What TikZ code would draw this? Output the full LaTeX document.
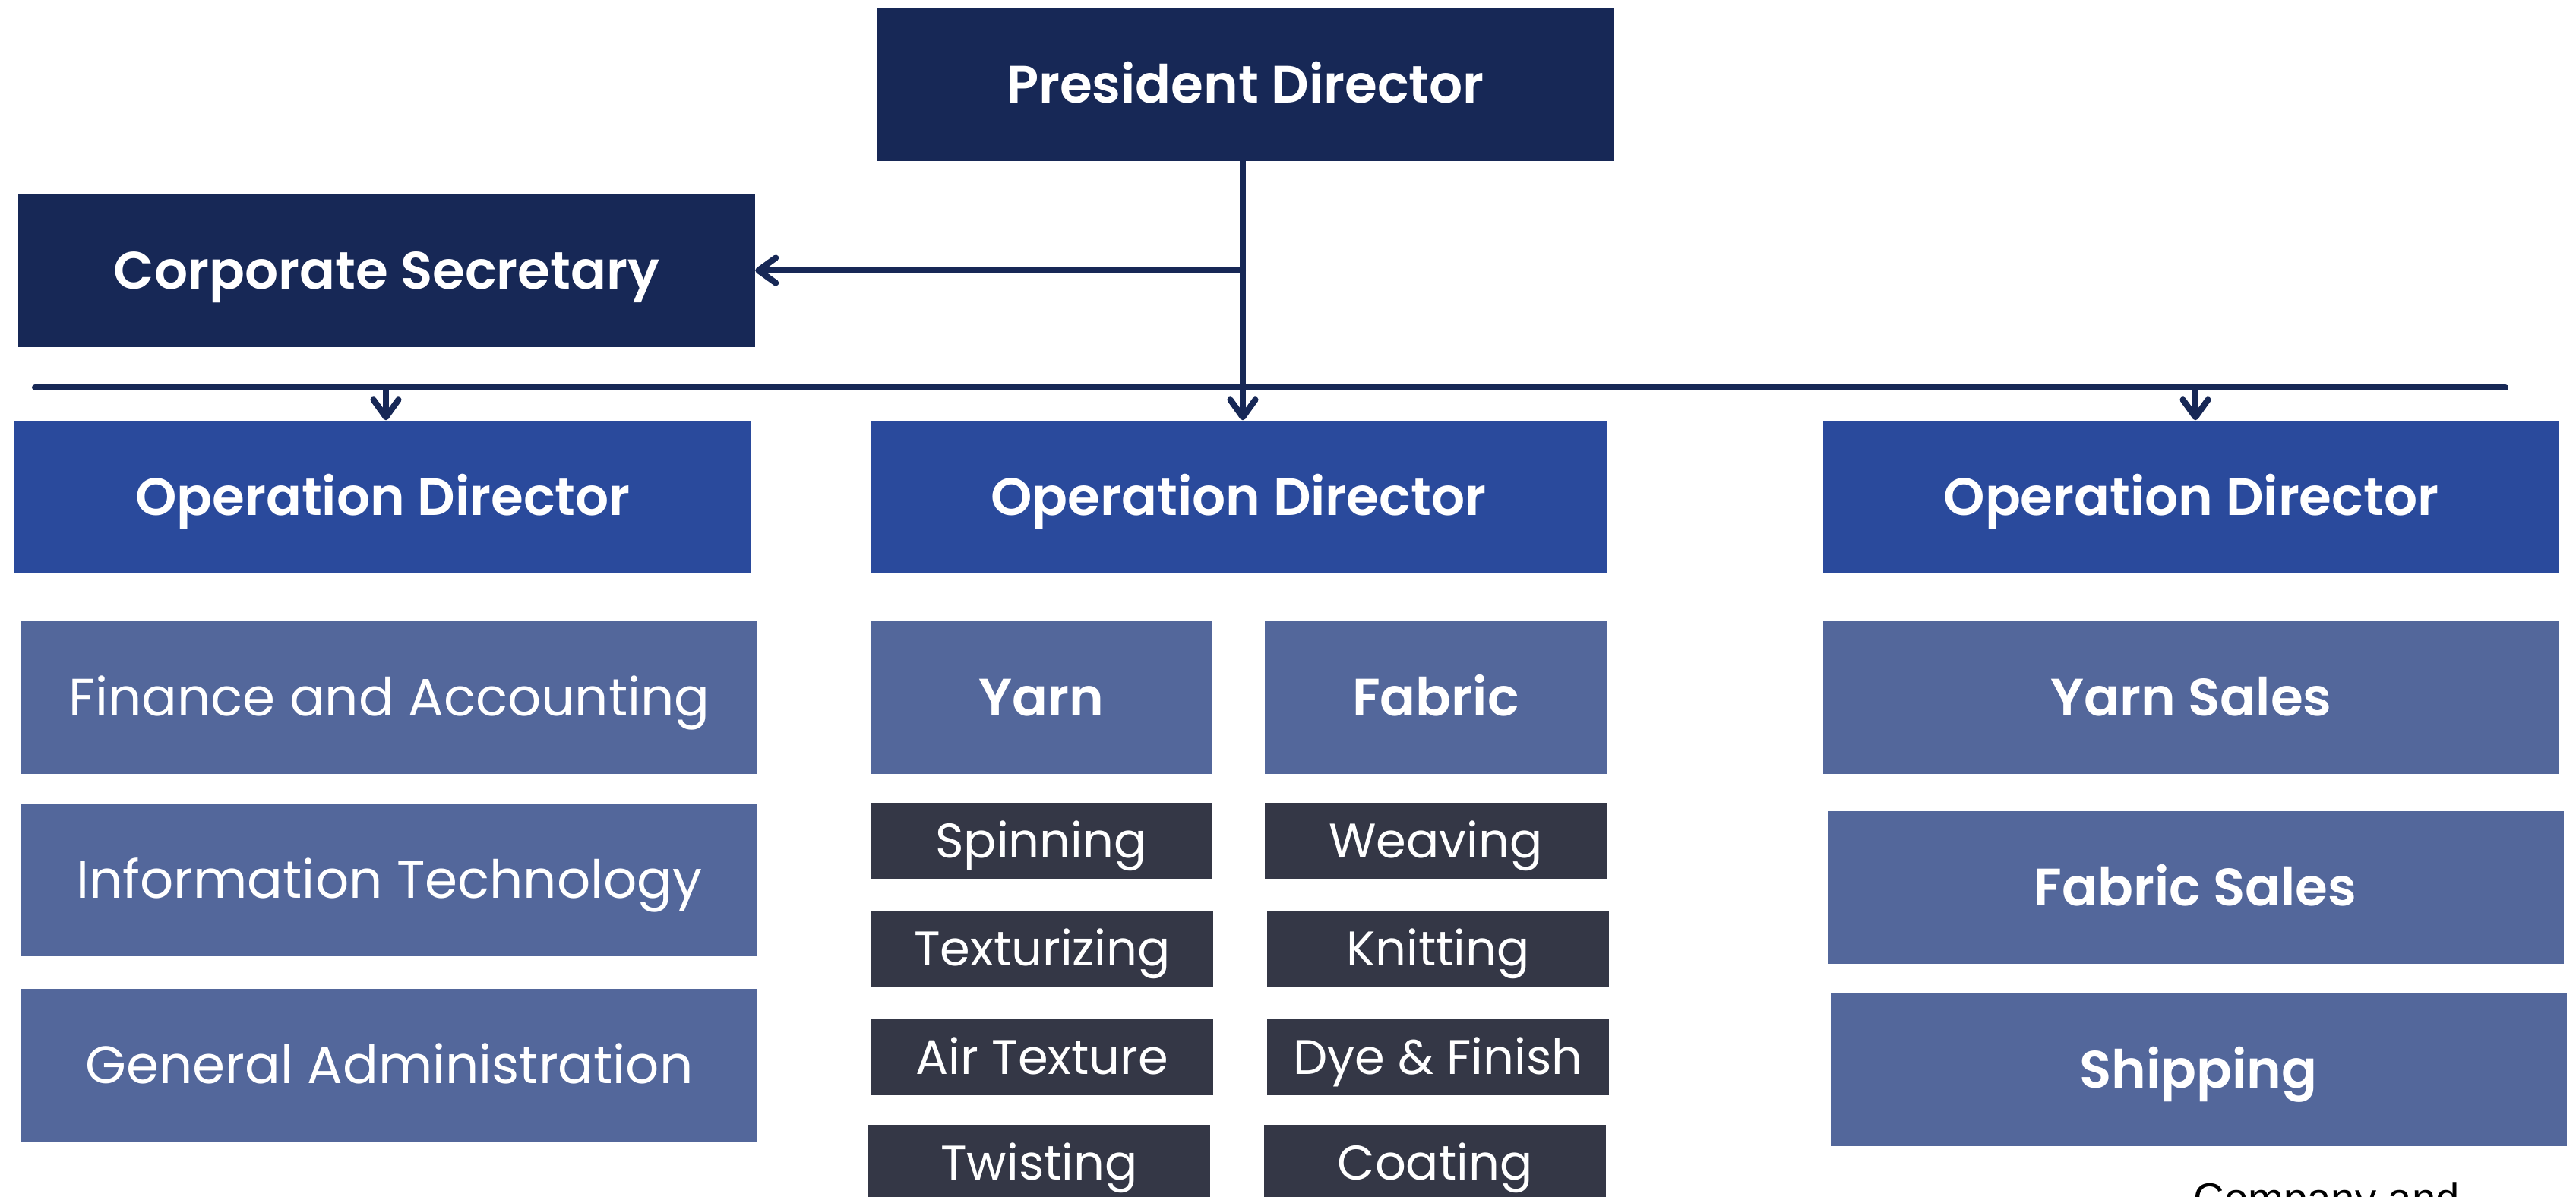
\documentclass[tikz,border=0pt]{standalone}
\usepackage{fontspec}
\setmainfont{Poppins}[BoldFont={Poppins SemiBold}]
\newfontfamily\arialfont{Liberation Sans}
\usetikzlibrary{arrows.meta}
\definecolor{marinocol}{HTML}{172856}
\definecolor{azulcol}{HTML}{2A4A9C}
\definecolor{grisazulcol}{HTML}{53679B}
\definecolor{oscurocol}{HTML}{343746}
\begin{document}
\begin{tikzpicture}[
    caja/.style={rectangle, inner sep=0pt, minimum width=9.69cm, minimum height=2.01cm, text=white, text height=13.9pt, text depth=0pt, font=\fontsize{19.7}{23}\selectfont},
    marino/.style={caja, fill=marinocol, font=\fontsize{19.7}{23}\selectfont\bfseries},
    azul/.style={caja, fill=azulcol, font=\fontsize{19.7}{23}\selectfont\bfseries},
    grisazul/.style={caja, fill=grisazulcol},
    negrita/.style={font=\fontsize{19.7}{23}\selectfont\bfseries},
    oscuro/.style={caja, fill=oscurocol, minimum width=4.5cm, minimum height=1cm, text height=12.9pt, font=\fontsize{18.2}{22}\selectfont},
    linea/.style={draw=marinocol, line width=2.3pt, line cap=round},
    flecha/.style={linea, -{Straight Barb[length=2.3mm, width=3.3mm, line cap=round, line join=round]}}]
    \useasboundingbox (0,0) rectangle (33.91,-15.76);
    \clip (0,0) rectangle (33.91,-15.76);

    \node[marino] (pres) at (16.395, -1.115) {President Director};
    \node[marino] (corp) at (5.09, -3.56) {Corporate Secretary};

    \node[azul] (opA) at (5.04, -6.545) {Operation Director};
    \node[azul] (opB) at (16.305, -6.545) {Operation Director};
    \node[azul] (opC) at (28.845, -6.545) {Operation Director};

    \node[grisazul] (fin) at (5.125, -9.18) {Finance and Accounting};
    \node[grisazul] (it) at (5.125, -11.58) {Information Technology};
    \node[grisazul] (gen) at (5.125, -14.025) {General Administration};

    \node[grisazul, negrita, minimum width=4.5cm] (yarn) at (13.71, -9.18) {Yarn};
    \node[grisazul, negrita, minimum width=4.5cm] (fabric) at (18.90, -9.18) {Fabric};

    \node[oscuro] (spin) at (13.705, -11.07) {Spinning};
    \node[oscuro] (textu) at (13.72, -12.49) {Texturizing};
    \node[oscuro] (air) at (13.72, -13.92) {Air Texture};
    \node[oscuro] (twist) at (13.68, -15.31) {Twisting};
    \node[oscuro] (weav) at (18.90, -11.07) {Weaving};
    \node[oscuro] (knit) at (18.93, -12.49) {Knitting};
    \node[oscuro] (dye) at (18.93, -13.92) {Dye \& Finish};
    \node[oscuro] (coat) at (18.89, -15.31) {Coating};

    \node[grisazul, negrita] (ysales) at (28.845, -9.18) {Yarn Sales};
    \node[grisazul, negrita] (fsales) at (28.90, -11.685) {Fabric Sales};
    \node[grisazul, negrita] (ship) at (28.94, -14.08) {Shipping};

    \node[anchor=base west, inner sep=0pt, font=\arialfont\fontsize{16}{19}\selectfont] (nota) at (28.87, -15.97) {Company and};

    % bus line
    \coordinate (busL) at (0.46, -5.10);
    \coordinate (busR) at (32.98, -5.10);
    \draw[linea] (busL) -- (busR);

    \draw[flecha] (pres.south -| 16.36, 0) -- (opB.north -| 16.36, 0);
    \draw[flecha] (corp.east -| 16.36, 0) -- (corp.east);
    \draw[flecha] (busL -| 5.08, 0) -- (opA.north -| 5.08, 0);
    \draw[flecha] (busR -| 28.90, 0) -- (opC.north -| 28.90, 0);
\end{tikzpicture}
\end{document}
